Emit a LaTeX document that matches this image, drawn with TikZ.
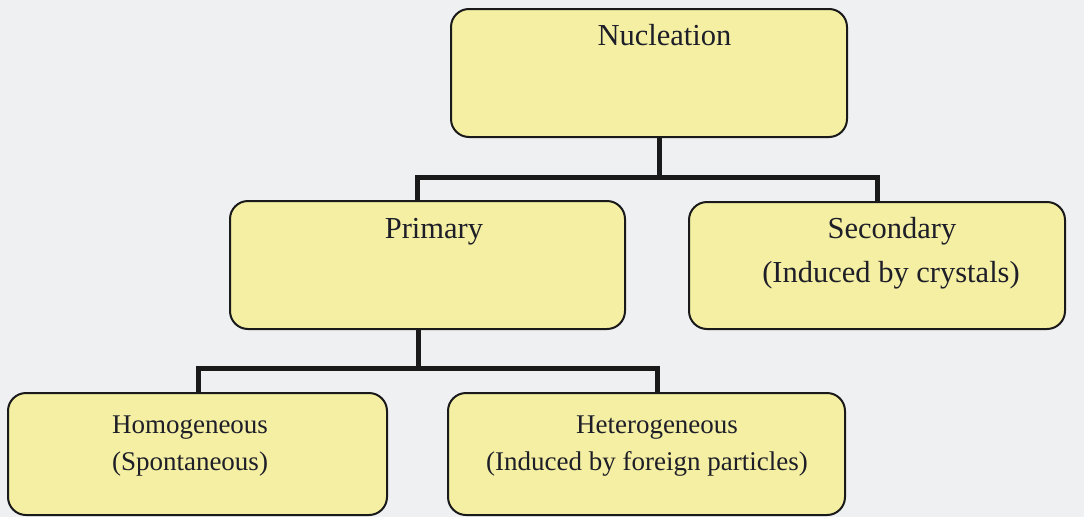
\documentclass[tikz,border=0pt]{standalone}
\usepackage{fontspec}
\setmainfont{Liberation Serif}
\definecolor{bgc}{HTML}{EFF0F2}
\definecolor{boxfill}{HTML}{F4EFA3}
\definecolor{ink}{HTML}{1A1A1A}
\definecolor{txt}{HTML}{1E1E28}
\begin{document}
\begin{tikzpicture}[x=1pt,y=-1pt,
  box/.style={draw=ink,line width=2pt,fill=boxfill,rounded corners=18pt,inner sep=0pt},
  bigtxt/.style={anchor=base,text=txt,inner sep=0pt,font=\fontsize{30.5}{36}\selectfont},
  smalltxt/.style={anchor=base,text=txt,inner sep=0pt,font=\fontsize{27}{32}\selectfont},
  conn/.style={draw=ink,line width=5pt,line cap=rect}]
\fill[bgc] (0,0) rectangle (1084,517);
\useasboundingbox (0,0) rectangle (1084,517);
% boxes
\node[box,minimum width=396pt,minimum height=128pt] (nuc) at (649,73) {};
\node[box,minimum width=395pt,minimum height=128pt] (pri) at (427.5,265) {};
\node[box,minimum width=376pt,minimum height=127pt] (sec) at (877,265.5) {};
\node[box,minimum width=379pt,minimum height=122pt] (hom) at (197.5,454) {};
\node[box,minimum width=397pt,minimum height=122pt] (het) at (646.5,454) {};
% texts
\node[bigtxt] (tnuc) at (664.5,45) {Nucleation};
\node[bigtxt] (tpri) at (434,238) {Primary};
\node[bigtxt] (tsec1) at (892,238) {Secondary};
\node[bigtxt] (tsec2) at (891,282) {(Induced by crystals)};
\node[smalltxt] (thom1) at (190,433) {Homogeneous};
\node[smalltxt] (thom2) at (190,470) {(Spontaneous)};
\node[smalltxt] (thet1) at (657,433) {Heterogeneous};
\node[smalltxt] (thet2) at (647,470) {(Induced by foreign particles)};
% connector junctions
\coordinate (n1) at (659,137);
\coordinate (b1l) at (417,177);
\coordinate (b1r) at (877,177);
\coordinate (p1) at (418,329);
\coordinate (b2l) at (198,368);
\coordinate (b2r) at (657,368);
\begin{scope}[on background layer/.try]
\end{scope}
\draw[conn,line cap=butt] (n1) -- (n1 |- b1l);
\draw[conn,line join=miter,line cap=butt] (b1l |- pri.north) -- (b1l) -- (b1r) -- (b1r |- sec.north);
\draw[conn,line cap=butt] (p1) -- (p1 |- b2l);
\draw[conn,line join=miter,line cap=butt] (b2l |- hom.north) -- (b2l) -- (b2r) -- (b2r |- het.north);
\end{tikzpicture}
\end{document}
